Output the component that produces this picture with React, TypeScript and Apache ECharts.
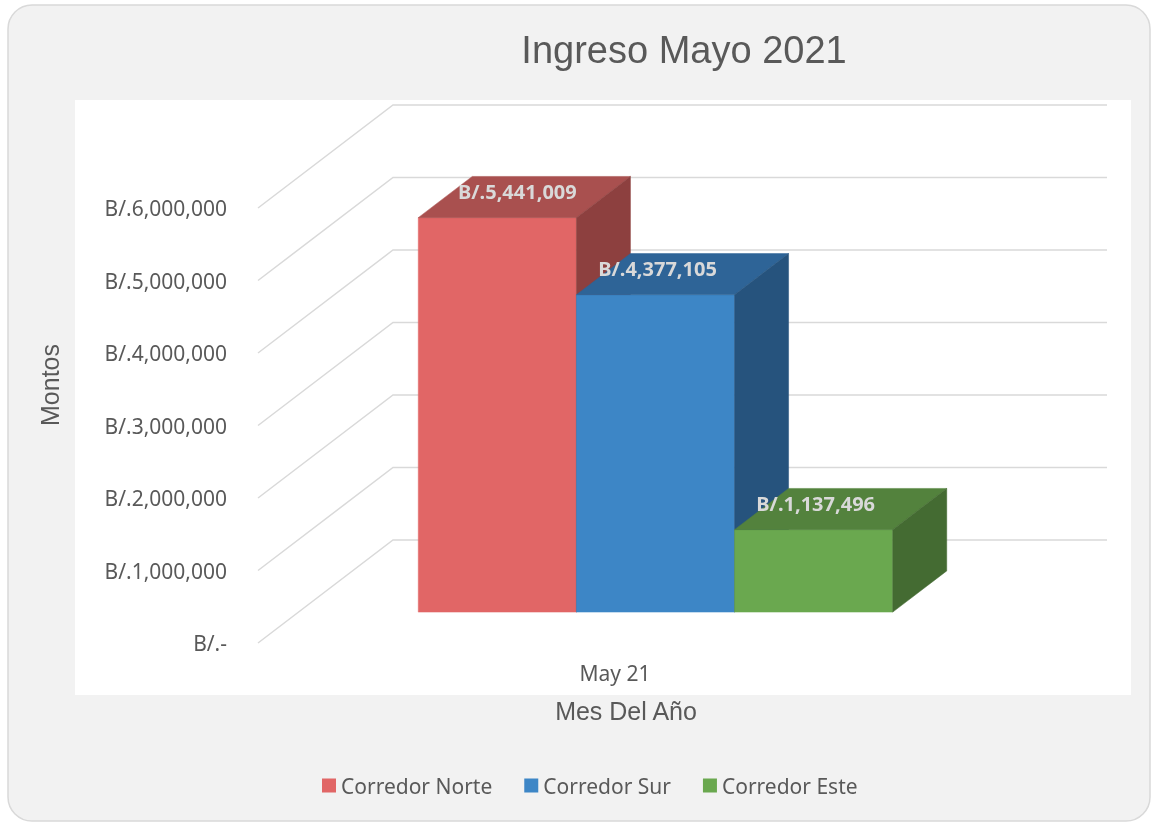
import React, { useEffect, useRef } from "react";
import * as echarts from "echarts";

// ---- data ----
const CATEGORIES = ["May 21"];
const SERIES_NAMES = ["Corredor Norte", "Corredor Sur", "Corredor Este"];
const NORTE = [5441009];
const SUR = [4377105];
const ESTE = [1137496];
const SERIES_VALUES = [NORTE, SUR, ESTE];
const Y_TICKS = [0, 1000000, 2000000, 3000000, 4000000, 5000000, 6000000];

// ---- styles ----
const FRONT = ["#E16666", "#3D86C6", "#6AA84F"];
const TOP = ["#A9504F", "#2E6497", "#53823D"];
const SIDE = ["#8D403F", "#26537D", "#446B32"];
const LABEL_DX = [20, 2, 2];
const DEPTH_DX = 135;
const DEPTH_DY = -103;
const BAR_F1 = 0.3;
const BAR_F2 = 0.7;
const BAR_W = 0.2215;
const TXT = "#595959";

const fmt = (v: number) =>
  v === 0 ? "B/.-" : "B/." + v.toLocaleString("en-US");

export default function App() {
  const ref = useRef<HTMLDivElement>(null);
  useEffect(() => {
    if (!ref.current) return;
    const chart = echarts.init(ref.current, undefined, { renderer: "svg" });

    const gridSeries: any = {
      type: "custom",
      name: "grid3d",
      clip: false,
      silent: true,
      z: 1,
      data: Y_TICKS.map((v) => [0, v]),
      renderItem: (params: any, api: any) => {
        const p = api.coord([api.value(0), api.value(1)]);
        const bw = api.size([1, 0])[0];
        const xl = p[0] - bw / 2;
        const xr = p[0] + bw / 2;
        return {
          type: "polyline",
          shape: {
            points: [
              [xl, p[1]],
              [xl + DEPTH_DX, p[1] + DEPTH_DY],
              [xr + DEPTH_DX, p[1] + DEPTH_DY],
            ],
          },
          style: { stroke: "#d9d9d9", lineWidth: 1.5, fill: "none" },
        };
      },
    };

    const barSeries = SERIES_NAMES.map((name, si) => ({
      type: "custom",
      name,
      clip: false,
      z: 2 + si,
      itemStyle: { color: FRONT[si] },
      data: CATEGORIES.map((_, ci) => [ci, SERIES_VALUES[si][ci]]),
      renderItem: (params: any, api: any) => {
        const cat = api.value(0);
        const val = api.value(1);
        const base = api.coord([cat, 0]);
        const top = api.coord([cat, val]);
        const bw = api.size([1, 0])[0];
        const w = bw * BAR_W;
        const fx = DEPTH_DX * BAR_F1;
        const fy = DEPTH_DY * BAR_F1;
        const ddx = DEPTH_DX * (BAR_F2 - BAR_F1);
        const ddy = DEPTH_DY * (BAR_F2 - BAR_F1);
        const x0 = base[0] + (si - 1) * w - w / 2 + fx;
        const x1 = x0 + w;
        const yb = base[1] + fy;
        const yt = top[1] + fy;
        return {
          type: "group",
          children: [
            {
              type: "polygon",
              shape: { points: [[x0, yt], [x1, yt], [x1, yb], [x0, yb]] },
              style: { fill: FRONT[si], stroke: FRONT[si], lineWidth: 0.5 },
            },
            {
              type: "polygon",
              shape: {
                points: [[x0, yt], [x0 + ddx, yt + ddy], [x1 + ddx, yt + ddy], [x1, yt]],
              },
              style: { fill: TOP[si], stroke: TOP[si], lineWidth: 0.5 },
            },
            {
              type: "polygon",
              shape: {
                points: [[x1, yt], [x1 + ddx, yt + ddy], [x1 + ddx, yb + ddy], [x1, yb]],
              },
              style: { fill: SIDE[si], stroke: SIDE[si], lineWidth: 0.5 },
            },
            {
              type: "text",
              x: (x0 + x1) / 2 + LABEL_DX[si],
              y: yt - 26,
              style: {
                text: fmt(val),
                align: "center",
                verticalAlign: "middle",
                fill: "#d9d9d9",
                font: "bold 20px 'Noto Sans'",
              },
            },
          ],
        };
      },
    }));

    chart.setOption({
      animation: false,
      title: {
        text: "Ingreso Mayo 2021",
        left: 679,
        top: 26,
        textAlign: "center",
        textStyle: {
          fontFamily: "Liberation Sans",
          fontSize: 38,
          fontWeight: "normal",
          color: TXT,
        },
      },
      legend: {
        data: SERIES_NAMES,
        left: 322,
        top: 775,
        padding: 0,
        icon: "rect",
        itemWidth: 14,
        itemHeight: 14,
        itemGap: 32,
        textStyle: { fontFamily: "Noto Sans", fontSize: 21, color: TXT },
      },
      graphic: [
        {
          type: "rect",
          z: -10,
          silent: true,
          shape: { x: 8, y: 5, width: 1142, height: 816, r: 24 },
          style: { fill: "#f2f2f2", stroke: "#d9d9d9", lineWidth: 1.5 },
        },
        {
          type: "rect",
          z: -9,
          silent: true,
          shape: { x: 75, y: 100, width: 1056, height: 595 },
          style: { fill: "#ffffff" },
        },
        {
          type: "text",
          x: 50,
          y: 385,
          rotation: Math.PI / 2,
          style: {
            text: "Montos",
            align: "center",
            verticalAlign: "middle",
            fill: TXT,
            font: "25px 'Liberation Sans'",
          },
        },
        {
          type: "text",
          x: 626,
          y: 711,
          style: {
            text: "Mes Del Año",
            align: "center",
            verticalAlign: "middle",
            fill: TXT,
            font: "25px 'Liberation Sans'",
          },
        },
      ],
      grid: { left: 258, right: 181, top: 208, bottom: 182 },
      xAxis: {
        type: "category",
        data: CATEGORIES,
        axisLine: { show: false },
        axisTick: { show: false },
        axisLabel: {
          margin: 19,
          fontFamily: "Noto Sans",
          fontSize: 21,
          color: TXT,
        },
      },
      yAxis: {
        type: "value",
        min: 0,
        max: 6000000,
        interval: 1000000,
        axisLine: { show: false },
        axisTick: { show: false },
        splitLine: { show: false },
        axisLabel: {
          margin: 31,
          fontFamily: "Noto Sans",
          fontSize: 21,
          color: TXT,
          formatter: (v: number) => fmt(v),
        },
      },
      series: [gridSeries, ...barSeries],
    });
    return () => chart.dispose();
  }, []);
  return (
    <div
      ref={ref}
      style={{ position: "fixed", left: 0, top: 0, width: 1153, height: 825 }}
    />
  );
}
